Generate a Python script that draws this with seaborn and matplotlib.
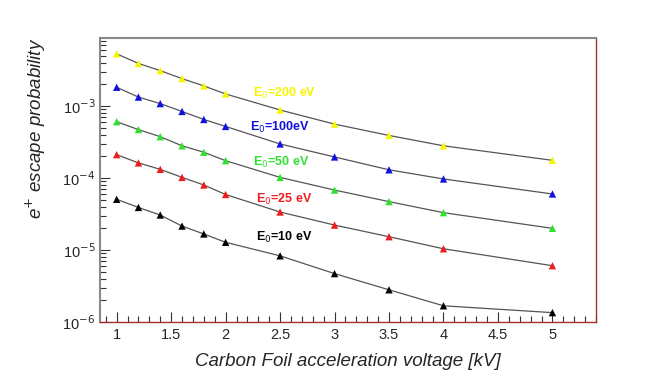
import numpy as np
import pandas as pd
import matplotlib
matplotlib.use("Agg")
import matplotlib.pyplot as plt
import seaborn as sns
from matplotlib.ticker import LogLocator, MultipleLocator, FixedLocator, NullFormatter

# voltage points [kV]
voltage = [1.0, 1.2, 1.4, 1.6, 1.8, 2.0, 2.5, 3.0, 3.5, 4.0, 5.0]

# escape probability per initial energy
p_200 = [5.3e-3, 3.9e-3, 3.1e-3, 2.4e-3, 1.9e-3, 1.47e-3, 8.8e-4, 5.6e-4, 3.9e-4, 2.8e-4, 1.76e-4]
p_100 = [1.82e-3, 1.33e-3, 1.08e-3, 8.4e-4, 6.5e-4, 5.2e-4, 2.97e-4, 1.96e-4, 1.30e-4, 9.7e-5, 6.0e-5]
p_50 = [6.05e-4, 4.7e-4, 3.75e-4, 2.8e-4, 2.28e-4, 1.74e-4, 1.02e-4, 6.8e-5, 4.7e-5, 3.3e-5, 2.0e-5]
p_25 = [2.11e-4, 1.62e-4, 1.32e-4, 1.02e-4, 8.0e-5, 5.9e-5, 3.37e-5, 2.22e-5, 1.53e-5, 1.04e-5, 6.05e-6]
p_10 = [5.06e-5, 3.9e-5, 3.06e-5, 2.15e-5, 1.67e-5, 1.28e-5, 8.3e-6, 4.7e-6, 2.8e-6, 1.68e-6, 1.35e-6]

series_names = ["200", "100", "50", "25", "10"]
series_vals = [p_200, p_100, p_50, p_25, p_10]
series_labels = ["E$_0$=200 eV", "E$_0$=100eV", "E$_0$=50 eV", "E$_0$=25 eV", "E$_0$=10 eV"]
colors = ["#f5f500", "#1010e0", "#30e030", "#ee1c1c", "#000000"]
label_pos = [(2.25, 1.50e-3), (2.22, 5.1e-4), (2.25, 1.65e-4), (2.28, 5.0e-5), (2.28, 1.50e-5)]

df = pd.concat([pd.DataFrame({"voltage": voltage, "prob": v, "E0": n})
                for n, v in zip(series_names, series_vals)], ignore_index=True)

sns.set_style("white")
plt.rcParams["font.family"] = ["Liberation Sans", "DejaVu Sans"]

fig = plt.figure(figsize=(6.64, 3.80), dpi=100)
ax = fig.add_axes([0.1506, 0.1526, 0.7470, 0.7474])

for n, c in zip(series_names, colors):
    sub = df[df["E0"] == n]
    sns.lineplot(data=sub, x="voltage", y="prob", ax=ax, color="#555555",
                 linewidth=0.9, legend=False)
    sns.scatterplot(data=sub, x="voltage", y="prob", ax=ax, color=c, marker="^",
                    s=28, edgecolor="none", legend=False, zorder=3)

for lab, (lx, ly), c in zip(series_labels, label_pos, colors):
    ax.text(lx, ly, lab, color=c, fontsize=9, fontweight="bold",
            ha="left", va="center")

ax.set_yscale("log")
ax.set_xlim(0.847, 5.40)
ax.set_ylim(1e-6, 8.8e-3)

ax.xaxis.set_major_locator(MultipleLocator(0.5))
ax.xaxis.set_minor_locator(MultipleLocator(0.1))
ax.yaxis.set_major_locator(FixedLocator([1e-6, 1e-5, 1e-4, 1e-3]))
ax.yaxis.set_minor_locator(LogLocator(base=10, subs=np.arange(2, 10)))
ax.yaxis.set_minor_formatter(NullFormatter())
ax.set_yticklabels(["10$^{-6}$", "10$^{-5}$", "10$^{-4}$", "10$^{-3}$"])
ax.set_xticklabels([f"{t:g}" for t in ax.get_xticks()])

ax.tick_params(axis="both", which="major", direction="in", length=7, width=0.8,
               labelsize=10.5, color="#333333", top=False, right=False, bottom=True, left=True)
ax.tick_params(axis="both", which="minor", direction="in", length=4, width=0.8,
               color="#333333", top=False, right=False, bottom=True, left=True)
ax.tick_params(axis="x", pad=4)

for side in ["top", "left"]:
    ax.spines[side].set_color("#8a8a8a")
    ax.spines[side].set_linewidth(1.5)
for side in ["bottom", "right"]:
    ax.spines[side].set_color("#a03030")
    ax.spines[side].set_linewidth(1.0)

ax.set_xlabel("Carbon Foil acceleration voltage [kV]", fontsize=13.5, style="italic", labelpad=8)
ax.set_ylabel("e$^{+}$ escape probability", fontsize=13.5, style="italic",
              loc="top", labelpad=10)

fig.savefig("out.png", dpi=100)
